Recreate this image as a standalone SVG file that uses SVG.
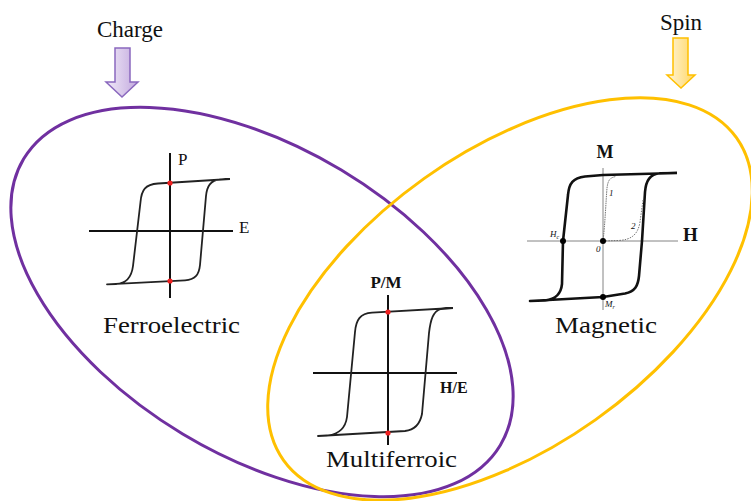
<svg xmlns="http://www.w3.org/2000/svg" width="751" height="501" viewBox="0 0 751 501">
<defs>
<linearGradient id="gPurple" x1="0" y1="0" x2="1" y2="0">
<stop offset="0" stop-color="#F1EAF8"/>
<stop offset="1" stop-color="#C2A9DE"/>
</linearGradient>
<linearGradient id="gYellow" x1="0" y1="0" x2="1" y2="0">
<stop offset="0" stop-color="#FFF6DC"/>
<stop offset="1" stop-color="#FFD561"/>
</linearGradient>
<style>
text{font-family:"Liberation Serif","Times New Roman",serif;fill:#111}
.big{font-size:23px}
.bold{font-weight:bold}
.axis{stroke:#111;stroke-width:2;fill:none}
.loop{stroke:#222;stroke-width:1.8;fill:none;stroke-linejoin:round}
.maxis{stroke:#777;stroke-width:0.9;fill:none}
.mloop{stroke:#111;stroke-width:2.6;fill:none;stroke-linejoin:round}
.thin{stroke:#666;stroke-width:0.9;fill:none}
.red{fill:#F02020}
.blk{fill:#000}
.small{font-style:italic;font-size:9px}
</style>
</defs>
<rect width="751" height="501" fill="#fff"/>

<g id="ferroelectric-set">
<ellipse cx="262" cy="302" rx="278" ry="154" transform="rotate(31 262 302)" fill="none" stroke="#7030A0" stroke-width="3"/>
</g>
<g id="magnetic-set">
<ellipse cx="510" cy="299" rx="278" ry="148" transform="rotate(-35.4 510 299)" fill="none" stroke="#FFC000" stroke-width="3"/>
</g>

<g id="charge">
<path d="M115,48 L130,48 L130,82 L138,82 L122,97 L106,82 L115,82 Z" fill="url(#gPurple)" stroke="#8A68BE" stroke-width="1.5"/>
<text class="big" x="130" y="37" text-anchor="middle" font-family="Liberation Serif, serif">Charge</text>
</g>

<g id="spin">
<path d="M673,38 L688,38 L688,75 L695,75 L681,88 L667,75 L673,75 Z" fill="url(#gYellow)" stroke="#FFC000" stroke-width="1.5"/>
<text class="big" x="681" y="30" text-anchor="middle" font-family="Liberation Serif, serif">Spin</text>
</g>

<g id="ferroelectric-plot">
<line class="axis" x1="170" y1="153" x2="170" y2="298"/>
<line class="axis" x1="89" y1="231" x2="233" y2="231"/>
<path class="loop" d="M230,179 L158,183.5 C145,184.5 141.5,190 140.5,202 L133,266 C131.5,278 126,283.5 116,284 L107,284.3 L185,280.3 C195,279.8 199,275 200,265 L206,196 C207,186 210.5,180.5 220,179.4 L230,179"/>
<circle class="red" cx="170" cy="183" r="2.6"/>
<circle class="red" cx="170" cy="281" r="2.6"/>
<text x="178" y="165" font-size="17">P</text>
<text x="239" y="233" font-size="17">E</text>
<text class="big" x="103" y="333" textLength="137" lengthAdjust="spacingAndGlyphs" font-family="Liberation Serif, serif">Ferroelectric</text>
</g>

<g id="multiferroic-plot">
<line class="axis" x1="388" y1="295" x2="388" y2="445"/>
<line class="axis" x1="313" y1="373" x2="457" y2="373"/>
<path class="loop" d="M453,308 L372,312.7 C360,313.5 356,320 355,332 L347,417 C345.5,428 339,434 328,435.5 L318,436 L405,431 C415,430 420,424 422,414 L429,333 C430.5,320 433,311 441,309 L453,308"/>
<circle class="red" cx="388" cy="312" r="2.6"/>
<circle class="red" cx="388" cy="433" r="2.6"/>
<text class="bold" x="386" y="288" font-size="17" text-anchor="middle">P/M</text>
<text class="bold" x="440" y="393" font-size="16">H/E</text>
<text class="big" x="326" y="467" textLength="131" lengthAdjust="spacingAndGlyphs" font-family="Liberation Serif, serif">Multiferroic</text>
</g>

<g id="magnetic-plot">
<line class="maxis" x1="603" y1="168" x2="603" y2="310"/>
<line class="maxis" x1="527" y1="241" x2="678" y2="241"/>
<path class="mloop" d="M677,173 L603,175 L585,176.5 C573,178 569,183 568,195 L563,241 L562,284 C561,294 556,299 545,300.5 L530,301 L603,297 L625,293.5 C635,291.5 638,286 639,276 L642,241 L645,192 C646,180 650,174.5 660,173.3 L677,173"/>
<path class="thin" d="M603,241 C605,225 606,200 607,188 C608,180 610,177.5 616,176.5" stroke-dasharray="1.5,0.8"/>
<path class="thin" d="M603,241 L618,240.5 C632,240 638,234 640,222 L643,200" stroke-dasharray="1.5,1.2"/>
<circle class="blk" cx="563" cy="241" r="3"/>
<circle class="blk" cx="603" cy="241" r="3"/>
<circle class="blk" cx="603" cy="297" r="3"/>
<text class="bold" x="605" y="158" font-size="18" text-anchor="middle">M</text>
<text class="bold" x="683" y="241" font-size="19">H</text>
<text class="small" x="550" y="237">H<tspan font-size="6" dy="1.5">c</tspan></text>
<text class="small" x="596" y="252">0</text>
<text class="small" x="605" y="307">M<tspan font-size="6" dy="1.5">r</tspan></text>
<text class="small" x="609" y="196">1</text>
<text class="small" x="631" y="229">2</text>
<text class="big" x="555" y="333" textLength="102" lengthAdjust="spacingAndGlyphs" font-family="Liberation Serif, serif">Magnetic</text>
</g>
</svg>
